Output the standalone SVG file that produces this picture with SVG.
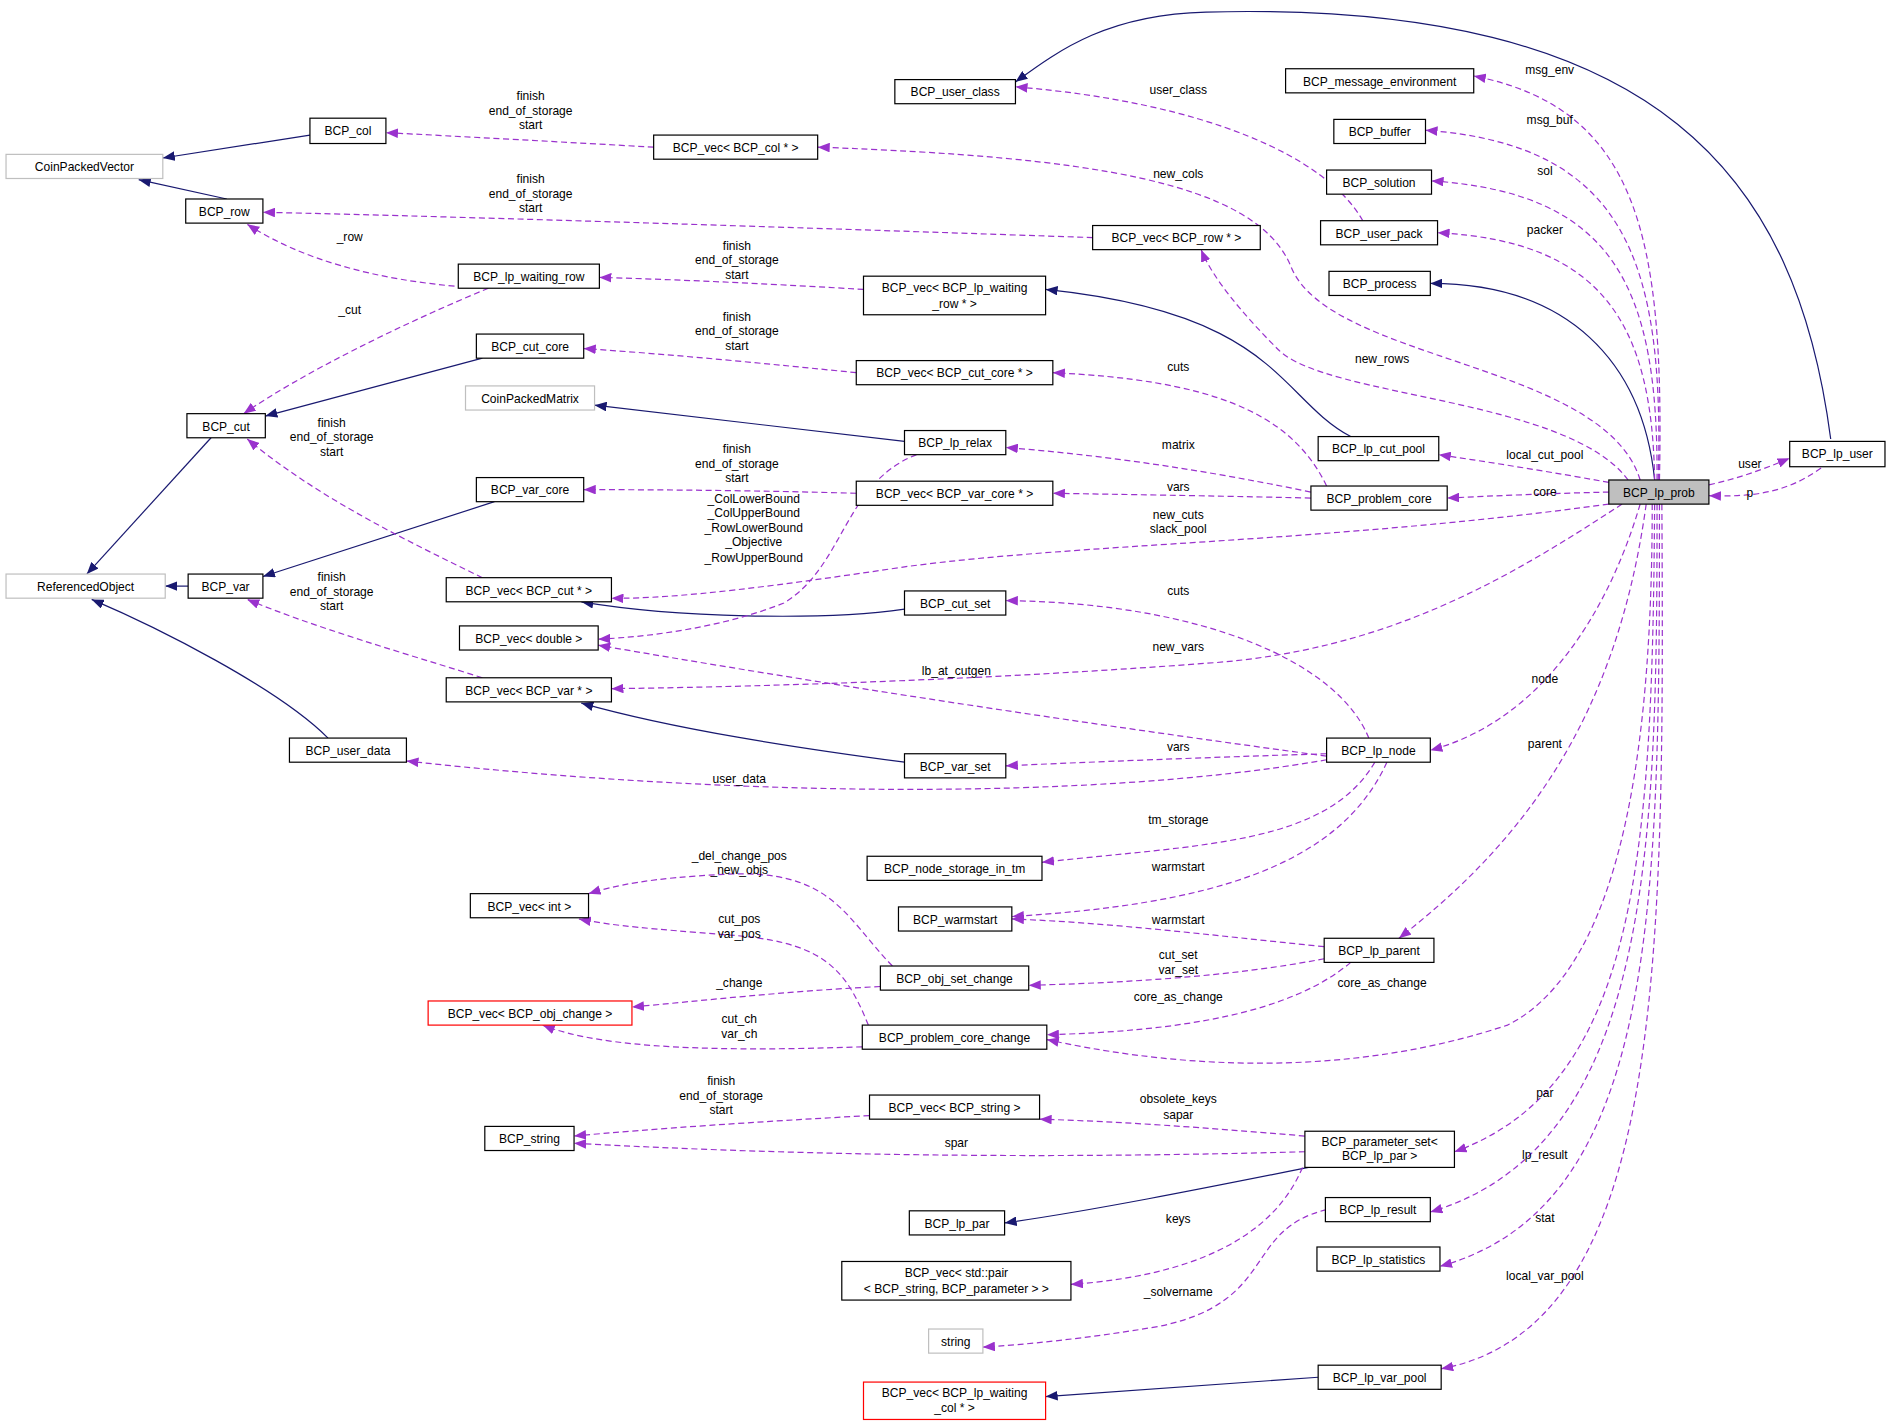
<svg xmlns="http://www.w3.org/2000/svg" width="1891" height="1426" viewBox="0 0 1891 1426">
<defs>
<marker id="an" markerWidth="10" markerHeight="8" refX="10" refY="4" orient="auto" markerUnits="userSpaceOnUse"><path d="M0,0 L10,4 L0,8 z" fill="#191970"/></marker>
<marker id="ap" markerWidth="10" markerHeight="8" refX="10" refY="4" orient="auto" markerUnits="userSpaceOnUse"><path d="M0,0 L10,4 L0,8 z" fill="#9a32cd"/></marker>
<style>
.n rect{fill:#fff;stroke:#000;stroke-width:1}
.g rect{stroke:#bfbfbf}
.r rect{stroke:#ff0000}
text{font-family:"Liberation Sans",Arial,sans-serif;font-size:10px;text-anchor:middle;fill:#000}
.i{fill:none;stroke:#191970;stroke-width:1;marker-end:url(#an)}
.d{fill:none;stroke:#9a32cd;stroke-width:1;stroke-dasharray:5,3;marker-end:url(#ap)}
</style>
</defs>
<rect width="1891" height="1426" fill="#fff"/>
<g transform="scale(1.206)">
<g id="edges">
<path class="i" d="M257,112 L135,131"/>
<path class="i" d="M188,165 L115,149"/>
<path class="i" d="M175,363 L72,476"/>
<path class="i" d="M156,486 L137,486"/>
<path class="i" d="M272,612 C230,570 130,520 76,497"/>
<path class="i" d="M400,297 L220,345"/>
<path class="i" d="M410,416 L218,478"/>
<path class="i" d="M750,366 L493,336"/>
<path class="i" d="M750,505 C680,515 560,512 482,499"/>
<path class="i" d="M750,632 C660,620 560,605 482,583"/>
<path class="i" d="M1120,362 C1060,330 1060,260 867,240"/>
<path class="i" d="M1372,398 C1362,300 1300,235 1186,235"/>
<path class="i" d="M1518,364 C1490,150 1380,0 1000,10 C920,12 880,40 842,68"/>
<path class="i" d="M1093,1142 L867,1158"/>
<path class="i" d="M1085,968 C1000,985 900,1005 833,1014"/>
<path class="d" d="M542,122 C470,118 380,113 320,110"/>
<path class="d" d="M906,197 C700,190 400,180 218,176"/>
<path class="d" d="M716,240 C650,236 570,232 497,230"/>
<path class="d" d="M385,238 C310,232 250,215 205,186"/>
<path class="d" d="M405,239 C330,270 250,310 202,343"/>
<path class="d" d="M710,309 C640,302 560,294 484,289"/>
<path class="d" d="M710,409 C640,407 560,406 484,406"/>
<path class="d" d="M400,479 C330,445 260,410 205,364"/>
<path class="d" d="M400,562 C330,540 260,520 205,497"/>
<path class="d" d="M760,377 C700,400 700,470 650,500 C600,520 540,528 496,530"/>
<path class="d" d="M1334,418 C1100,450 900,450 750,470 C650,485 560,497 507,496"/>
<path class="d" d="M1345,418 C1250,480 1150,540 1000,550 C800,565 600,570 507,571"/>
<path class="d" d="M1135,612 C1110,550 1000,500 834,498"/>
<path class="d" d="M1100,627 C900,600 700,570 496,535"/>
<path class="d" d="M1100,625 C1000,628 900,632 834,635"/>
<path class="d" d="M1100,630 C900,665 600,660 337,631"/>
<path class="d" d="M1140,632 C1100,700 1000,700 864,715"/>
<path class="d" d="M1150,632 C1110,720 1000,750 839,760"/>
<path class="d" d="M1098,785 C1000,775 920,765 839,762"/>
<path class="d" d="M1098,795 C1020,810 930,815 853,817"/>
<path class="d" d="M1120,798 C1070,840 980,855 868,858"/>
<path class="d" d="M1370,418 C1370,600 1350,800 1250,850 C1100,900 950,880 868,862"/>
<path class="d" d="M740,801 C700,760 690,720 600,725 C540,728 510,734 488,741"/>
<path class="d" d="M730,818 C650,822 580,830 524,835"/>
<path class="d" d="M720,850 C700,800 680,780 600,775 C540,770 510,768 480,762"/>
<path class="d" d="M715,868 C600,872 500,870 450,850"/>
<path class="d" d="M721,925 C630,930 540,936 476,942"/>
<path class="d" d="M1082,942 C1000,935 930,930 862,928"/>
<path class="d" d="M1082,955 C900,960 700,960 476,948"/>
<path class="d" d="M1080,968 C1050,1040 960,1060 888,1065"/>
<path class="d" d="M1100,1003 C1030,1020 1060,1080 960,1100 C900,1110 850,1115 815,1117"/>
<path class="d" d="M1087,408 C1000,390 920,378 834,371"/>
<path class="d" d="M1100,403 C1070,340 1000,315 873,309"/>
<path class="d" d="M1087,413 C1000,411 930,410 873,409"/>
<path class="d" d="M1334,408 C1290,409 1240,411 1200,413"/>
<path class="d" d="M1334,400 C1290,392 1240,384 1193,377"/>
<path class="d" d="M1417,402 C1440,397 1460,390 1484,380"/>
<path class="d" d="M1510,388 C1480,410 1450,412 1417,411"/>
<path class="d" d="M1376,398 C1380,200 1360,90 1222,63"/>
<path class="d" d="M1375,398 C1380,220 1350,120 1182,108"/>
<path class="d" d="M1374,398 C1375,240 1340,160 1187,150"/>
<path class="d" d="M1372,398 C1370,270 1330,200 1192,193"/>
<path class="d" d="M1130,183 C1100,130 1000,85 842,72"/>
<path class="d" d="M1360,398 C1330,300 1100,300 1070,220 C1040,150 900,130 678,122"/>
<path class="d" d="M1350,398 C1300,330 1100,330 1060,290 C1030,260 1005,230 996,207"/>
<path class="d" d="M1360,418 C1330,520 1270,600 1186,622"/>
<path class="d" d="M1365,418 C1340,600 1260,700 1160,778"/>
<path class="d" d="M1372,418 C1370,700 1360,900 1206,955"/>
<path class="d" d="M1374,418 C1374,700 1370,950 1186,1005"/>
<path class="d" d="M1376,418 C1376,750 1375,1000 1194,1050"/>
<path class="d" d="M1378,418 C1380,800 1380,1100 1195,1135"/>
</g>
<g id="labels">
<text x="440" y="83">finish</text><text x="440" y="95">end_of_storage</text><text x="440" y="107">start</text>
<text x="440" y="152">finish</text><text x="440" y="164">end_of_storage</text><text x="440" y="176">start</text>
<text x="611" y="207">finish</text><text x="611" y="219">end_of_storage</text><text x="611" y="231">start</text>
<text x="290" y="200">_row</text>
<text x="290" y="260">_cut</text>
<text x="611" y="266">finish</text><text x="611" y="278">end_of_storage</text><text x="611" y="290">start</text>
<text x="611" y="376">finish</text><text x="611" y="388">end_of_storage</text><text x="611" y="400">start</text>
<text x="275" y="354">finish</text><text x="275" y="366">end_of_storage</text><text x="275" y="378">start</text>
<text x="275" y="482">finish</text><text x="275" y="494">end_of_storage</text><text x="275" y="506">start</text>
<text x="625" y="417">_ColLowerBound</text><text x="625" y="429">_ColUpperBound</text><text x="625" y="441">_RowLowerBound</text><text x="625" y="453">_Objective</text><text x="625" y="466">_RowUpperBound</text>
<text x="977" y="430">new_cuts</text><text x="977" y="442">slack_pool</text>
<text x="977" y="540">new_vars</text>
<text x="977" y="493">cuts</text>
<text x="793" y="560">lb_at_cutgen</text>
<text x="977" y="623">vars</text>
<text x="613" y="649">user_data</text>
<text x="977" y="683">tm_storage</text>
<text x="977" y="722">warmstart</text>
<text x="977" y="766">warmstart</text>
<text x="977" y="795">cut_set</text><text x="977" y="808">var_set</text>
<text x="977" y="830">core_as_change</text>
<text x="1146" y="818">core_as_change</text>
<text x="613" y="713">_del_change_pos</text><text x="613" y="725">_new_objs</text>
<text x="613" y="818">_change</text>
<text x="613" y="765">cut_pos</text><text x="613" y="778">var_pos</text>
<text x="613" y="848">cut_ch</text><text x="613" y="861">var_ch</text>
<text x="598" y="900">finish</text><text x="598" y="912">end_of_storage</text><text x="598" y="924">start</text>
<text x="977" y="915">obsolete_keys</text><text x="977" y="928">sapar</text>
<text x="793" y="951">spar</text>
<text x="977" y="1014">keys</text>
<text x="977" y="1075">_solvername</text>
<text x="977" y="372">matrix</text>
<text x="977" y="308">cuts</text>
<text x="977" y="407">vars</text>
<text x="1281" y="411">core</text>
<text x="1281" y="381">local_cut_pool</text>
<text x="1451" y="388">user</text>
<text x="1451" y="412">p</text>
<text x="1285" y="61">msg_env</text>
<text x="1285" y="103">msg_buf</text>
<text x="1281" y="145">sol</text>
<text x="1281" y="194">packer</text>
<text x="977" y="78">user_class</text>
<text x="977" y="148">new_cols</text>
<text x="1146" y="301">new_rows</text>
<text x="1281" y="566">node</text>
<text x="1281" y="620">parent</text>
<text x="1281" y="910">par</text>
<text x="1281" y="961">lp_result</text>
<text x="1281" y="1013">stat</text>
<text x="1281" y="1061">local_var_pool</text>
</g>
<g id="n_lp_prob"><rect x="1334" y="398" width="83" height="20" fill="#bfbfbf" stroke="#000"/><text x="1375.5" y="412">BCP_lp_prob</text></g>
<g id="n_lp_user" class="n"><rect x="1484" y="366" width="79" height="21"/><text x="1523.5" y="380">BCP_lp_user</text></g>
<g id="n_user_class" class="n"><rect x="742" y="66" width="100" height="20"/><text x="792" y="80">BCP_user_class</text></g>
<g id="n_msg_env" class="n"><rect x="1066" y="57" width="156" height="20"/><text x="1144" y="71">BCP_message_environment</text></g>
<g id="n_buffer" class="n"><rect x="1106" y="99" width="76" height="20"/><text x="1144" y="113">BCP_buffer</text></g>
<g id="n_solution" class="n"><rect x="1100" y="141" width="87" height="20"/><text x="1143.5" y="155">BCP_solution</text></g>
<g id="n_user_pack" class="n"><rect x="1095" y="183" width="97" height="20"/><text x="1143.5" y="197">BCP_user_pack</text></g>
<g id="n_process" class="n"><rect x="1102" y="225" width="84" height="20"/><text x="1144" y="239">BCP_process</text></g>
<g id="n_lp_cut_pool" class="n"><rect x="1093" y="362" width="100" height="20"/><text x="1143" y="376">BCP_lp_cut_pool</text></g>
<g id="n_problem_core" class="n"><rect x="1087" y="403" width="113" height="20"/><text x="1143.5" y="417">BCP_problem_core</text></g>
<g id="n_lp_node" class="n"><rect x="1100" y="612" width="86" height="20"/><text x="1143" y="626">BCP_lp_node</text></g>
<g id="n_lp_parent" class="n"><rect x="1098" y="778" width="91" height="20"/><text x="1143.5" y="792">BCP_lp_parent</text></g>
<g id="n_param_set" class="n"><rect x="1082" y="938" width="124" height="30"/><text x="1144" y="950">BCP_parameter_set&lt;</text><text x="1144" y="962">BCP_lp_par &gt;</text></g>
<g id="n_lp_result" class="n"><rect x="1099" y="993" width="87" height="20"/><text x="1142.5" y="1007">BCP_lp_result</text></g>
<g id="n_lp_stat" class="n"><rect x="1092" y="1034" width="102" height="20"/><text x="1143" y="1048">BCP_lp_statistics</text></g>
<g id="n_lp_var_pool" class="n"><rect x="1093" y="1132" width="102" height="20"/><text x="1144" y="1146">BCP_lp_var_pool</text></g>
<g id="n_vec_col" class="n"><rect x="542" y="112" width="136" height="20"/><text x="610" y="126">BCP_vec&lt; BCP_col * &gt;</text></g>
<g id="n_vec_row" class="n"><rect x="906" y="187" width="139" height="20"/><text x="975.5" y="201">BCP_vec&lt; BCP_row * &gt;</text></g>
<g id="n_vec_wrow" class="n"><rect x="716" y="229" width="151" height="32"/><text x="791.5" y="242">BCP_vec&lt; BCP_lp_waiting</text><text x="791.5" y="255">_row * &gt;</text></g>
<g id="n_vec_cutcore" class="n"><rect x="710" y="299" width="163" height="20"/><text x="791.5" y="313">BCP_vec&lt; BCP_cut_core * &gt;</text></g>
<g id="n_lp_relax" class="n"><rect x="750" y="357" width="84" height="20"/><text x="792" y="371">BCP_lp_relax</text></g>
<g id="n_vec_varcore" class="n"><rect x="710" y="399" width="163" height="20"/><text x="791.5" y="413">BCP_vec&lt; BCP_var_core * &gt;</text></g>
<g id="n_cut_set" class="n"><rect x="750" y="490" width="84" height="20"/><text x="792" y="504">BCP_cut_set</text></g>
<g id="n_var_set" class="n"><rect x="750" y="625" width="84" height="20"/><text x="792" y="639">BCP_var_set</text></g>
<g id="n_node_storage" class="n"><rect x="719" y="710" width="145" height="20"/><text x="791.5" y="724">BCP_node_storage_in_tm</text></g>
<g id="n_warmstart" class="n"><rect x="745" y="752" width="94" height="20"/><text x="792" y="766">BCP_warmstart</text></g>
<g id="n_obj_set_change" class="n"><rect x="730" y="801" width="123" height="20"/><text x="791.5" y="815">BCP_obj_set_change</text></g>
<g id="n_pcc" class="n"><rect x="715" y="850" width="153" height="20"/><text x="791.5" y="864">BCP_problem_core_change</text></g>
<g id="n_vec_string" class="n"><rect x="721" y="908" width="141" height="20"/><text x="791.5" y="922">BCP_vec&lt; BCP_string &gt;</text></g>
<g id="n_lp_par" class="n"><rect x="754" y="1004" width="79" height="20"/><text x="793.5" y="1018">BCP_lp_par</text></g>
<g id="n_vec_pair" class="n"><rect x="698" y="1046" width="190" height="32"/><text x="793" y="1059">BCP_vec&lt; std::pair</text><text x="793" y="1072">&lt; BCP_string, BCP_parameter &gt; &gt;</text></g>
<g id="n_string" class="n g"><rect x="770" y="1102" width="45" height="20"/><text x="792.5" y="1116">string</text></g>
<g id="n_vec_wcol" class="n r"><rect x="716" y="1146" width="151" height="31"/><text x="791.5" y="1158">BCP_vec&lt; BCP_lp_waiting</text><text x="791.5" y="1171">_col * &gt;</text></g>
<g id="n_cpv" class="n g"><rect x="5" y="128" width="130" height="20"/><text x="70" y="142">CoinPackedVector</text></g>
<g id="n_col" class="n"><rect x="257" y="98" width="63" height="21"/><text x="288.5" y="112">BCP_col</text></g>
<g id="n_row" class="n"><rect x="154" y="165" width="64" height="20"/><text x="186" y="179">BCP_row</text></g>
<g id="n_lp_wrow" class="n"><rect x="380" y="219" width="117" height="20"/><text x="438.5" y="233">BCP_lp_waiting_row</text></g>
<g id="n_cut_core" class="n"><rect x="395" y="277" width="89" height="20"/><text x="439.5" y="291">BCP_cut_core</text></g>
<g id="n_cpm" class="n g"><rect x="386" y="320" width="107" height="20"/><text x="439.5" y="334">CoinPackedMatrix</text></g>
<g id="n_cut" class="n"><rect x="155" y="343" width="65" height="20"/><text x="187.5" y="357">BCP_cut</text></g>
<g id="n_var_core" class="n"><rect x="395" y="396" width="89" height="20"/><text x="439.5" y="410">BCP_var_core</text></g>
<g id="n_vec_cut" class="n"><rect x="370" y="479" width="137" height="20"/><text x="438.5" y="493">BCP_vec&lt; BCP_cut * &gt;</text></g>
<g id="n_vec_double" class="n"><rect x="381" y="519" width="115" height="20"/><text x="438.5" y="533">BCP_vec&lt; double &gt;</text></g>
<g id="n_vec_var" class="n"><rect x="370" y="562" width="137" height="20"/><text x="438.5" y="576">BCP_vec&lt; BCP_var * &gt;</text></g>
<g id="n_refobj" class="n g"><rect x="5" y="476" width="132" height="20"/><text x="71" y="490">ReferencedObject</text></g>
<g id="n_var" class="n"><rect x="156" y="476" width="62" height="20"/><text x="187" y="490">BCP_var</text></g>
<g id="n_user_data" class="n"><rect x="240" y="612" width="97" height="20"/><text x="288.5" y="626">BCP_user_data</text></g>
<g id="n_vec_int" class="n"><rect x="390" y="741" width="98" height="20"/><text x="439" y="755">BCP_vec&lt; int &gt;</text></g>
<g id="n_vec_objch" class="n r"><rect x="355" y="830" width="169" height="20"/><text x="439.5" y="844">BCP_vec&lt; BCP_obj_change &gt;</text></g>
<g id="n_bstring" class="n"><rect x="402" y="934" width="74" height="20"/><text x="439" y="948">BCP_string</text></g>
</g>
</svg>
